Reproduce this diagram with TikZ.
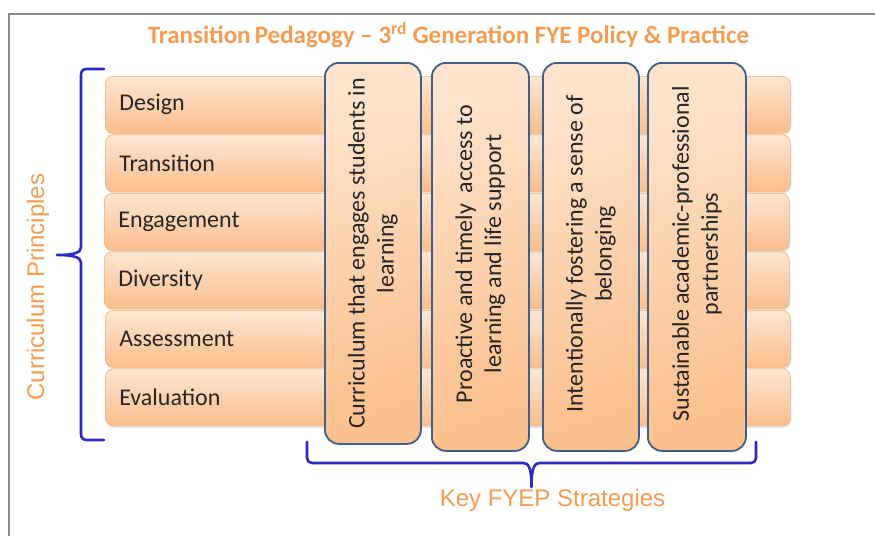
\documentclass[tikz,border=0pt]{standalone}
\usepackage{fontspec}
\setmainfont{Carlito}
\newfontfamily\arialf{Liberation Sans}
\usetikzlibrary{shadows}
\definecolor{orangetxt}{HTML}{F59B52}
\definecolor{bracecol}{HTML}{2B2BC4}
\definecolor{boxline}{HTML}{3D5F8A}
\definecolor{rowtop}{HTML}{FEE6D2}
\definecolor{rowbot}{HTML}{FBBE8C}
\definecolor{rowline}{HTML}{F4B07C}
\definecolor{vtop}{HTML}{FDE3CC}
\definecolor{vbot}{HTML}{FBC08E}
\definecolor{framecol}{HTML}{8A8A8A}
\begin{document}
\begin{tikzpicture}[x=1pt,y=-1pt,
  rowbox/.style={rounded corners=8pt, draw=rowline, line width=0.6pt,
    top color=rowtop, bottom color=rowbot,
    minimum width=685pt, minimum height=57pt, text width=657pt,
    align=left, inner xsep=14pt, anchor=north west,
    font=\fontsize{24}{29}\selectfont, text=black!85,
    drop shadow={opacity=0.2, shadow xshift=1pt, shadow yshift=-2pt}},
  vbox/.style={rounded corners=14pt, draw=boxline, line width=1.8pt,
    top color=vtop, bottom color=vbot, shading angle=20,
    anchor=north west, minimum width=96pt, inner sep=0pt},
  vtext/.style={rotate=90, align=center, text=black!85,
    font=\fontsize{24}{29}\selectfont},
  brace/.style={draw=bracecol, line width=2.6pt, line cap=round, line join=round},
  ttl/.style={text=orangetxt, font=\fontsize{25}{29}\selectfont\bfseries},
  lbl/.style={text=orangetxt, font=\arialf\fontsize{24}{28}\selectfont}
]
\useasboundingbox (0,0) rectangle (875,536);
% frame
\draw[framecol, line width=2.5pt] (9,536) -- (9,14) -- (875,14);

% title
\node[ttl] (title) at (448.5,35) {Transition\,Pedagogy -- 3\textsuperscript{rd} Generation FYE Policy \& Practice};

% rows
\node[rowbox] (r1) at (105,76) {Design};
\node[rowbox] (r2) at (105,134.5) {Transition};
\node[rowbox] (r3) at (104,193) {Engagement};
\node[rowbox] (r4) at (104,251.5) {Diversity};
\node[rowbox] (r5) at (105,310) {Assessment};
\node[rowbox] (r6) at (105,368.5) {Evaluation};

% vertical strategy boxes
\node[vbox, minimum height=381pt] (s1) at (324,62) {};
\node[vbox, minimum height=388pt, minimum width=97pt] (s2) at (431,62) {};
\node[vbox, minimum height=388pt] (s3) at (542,62) {};
\node[vbox, minimum height=388pt, minimum width=98pt] (s4) at (647,62) {};

\node[vtext] (t1) at (s1.center) {Curriculum that engages students in\\learning};
\node[vtext] (t2) at ([yshift=3pt]s2.center) {Proactive and timely\ \ access to\\learning and life support};
\node[vtext] (t3) at ([yshift=3pt]s3.center) {Intentionally fostering a sense of\\belonging};
\node[vtext] (t4) at ([yshift=3pt]s4.center) {Sustainable academic-professional\\partnerships};

% left brace
\coordinate (lb1) at (104,69);
\coordinate (lb2) at (104,440);
\coordinate (ltip) at (57,255);
\draw[brace] (lb1) -- (87,69) .. controls (83,69) and (81,71) .. (81,75)
  -- (81,247) .. controls (81,252) and (76,255) .. (ltip)
  .. controls (76,255) and (81,258) .. (81,263)
  -- (81,434) .. controls (81,438) and (83,440) .. (87,440) -- (lb2);
\node[lbl, rotate=90] (cp) at (38,287) {Curriculum Principles};

% bottom brace
\coordinate (bb1) at (307,442);
\coordinate (bb2) at (756,442);
\coordinate (btip) at (531.5,487);
\draw[brace] (bb1) -- (307,458) .. controls (307,461) and (309,463) .. (312,463)
  -- (523,463) .. controls (528,463) and (531.5,466) .. (btip)
  .. controls (531.5,466) and (535,463) .. (540,463)
  -- (751,463) .. controls (754,463) and (756,461) .. (756,458) -- (bb2);
\node[lbl] (kfs) at (552.5,500) {Key FYEP Strategies};
\end{tikzpicture}
\end{document}
